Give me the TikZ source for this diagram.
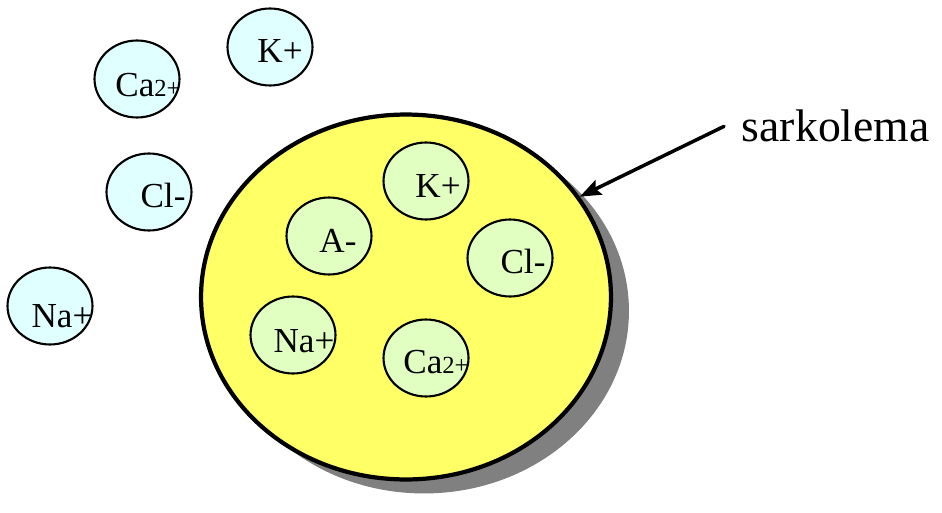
\documentclass[tikz,border=0pt]{standalone}
\usepackage{fontspec}
\setmainfont{Liberation Serif}
\usetikzlibrary{shapes.geometric,arrows.meta,shadows}
\definecolor{cellyellow}{HTML}{FFFF66}
\definecolor{ingreen}{HTML}{E0FFC0}
\definecolor{outcyan}{HTML}{E0FFFF}
\definecolor{shadowgray}{HTML}{808080}
\newcommand{\twoplus}{{\fontsize{14}{14}\selectfont 2+}}

\begin{document}
\begin{tikzpicture}[x=0.02cm,y=-0.02cm,line cap=round,line join=round,
  ion/.style={ellipse,draw=black,line width=1.2pt,inner sep=0pt,minimum width=1.7cm,minimum height=1.54cm},
  ionin/.style={ion,fill=ingreen},ionout/.style={ion,fill=outcyan},
  ionlbl/.style={font=\fontsize{20}{24}\selectfont,anchor=base,inner sep=0pt}]
\useasboundingbox (0,0) rectangle (942,513);
% the cell with its membrane
\node[ellipse,draw=black,line width=2.4pt,fill=cellyellow,minimum width=8.2cm,minimum height=7.3cm,general shadow={fill=shadowgray,shadow xshift=0.36cm,shadow yshift=-0.28cm}] (cell) at (406,297) {};
% ions outside
\node[ionout] (caout) at (137,79) {};\node[ionlbl] (caoutt) at ([shift={(11,18)}]caout.center) {Ca\twoplus};
\node[ionout] (kout) at (270,47) {};\node[ionlbl] (koutt) at ([shift={(10,16)}]kout.center) {K+};
\node[ionout] (clout) at (149,192) {};\node[ionlbl] (cloutt) at ([shift={(14,15)}]clout.center) {Cl-};
\node[ionout] (naout) at (50,306) {};\node[ionlbl] (naoutt) at ([shift={(12,21)}]naout.center) {Na+};
% ions inside
\node[ionin] (kin) at (426,181) {};\node[ionlbl] (kint) at ([shift={(12,16)}]kin.center) {K+};
\node[ionin] (ain) at (329,236) {};\node[ionlbl] (aint) at ([shift={(9,16)}]ain.center) {A-};
\node[ionin] (clin) at (510,258) {};\node[ionlbl] (clint) at ([shift={(13,15)}]clin.center) {Cl-};
\node[ionin] (nain) at (293,335) {};\node[ionlbl] (naint) at ([shift={(11,17)}]nain.center) {Na+};
\node[ionin] (cain) at (426,358) {};\node[ionlbl] (caint) at ([shift={(10,15)}]cain.center) {Ca\twoplus};
% membrane label
\node[font=\fontsize{26}{30}\selectfont,anchor=base west,inner sep=10pt] (sark) at (724,142) {sarkolema};
\draw[line width=2pt,-{Stealth[length=12pt,width=9pt,inset=2pt]}] (sark.west) -- (cell.30);
\end{tikzpicture}
\end{document}
